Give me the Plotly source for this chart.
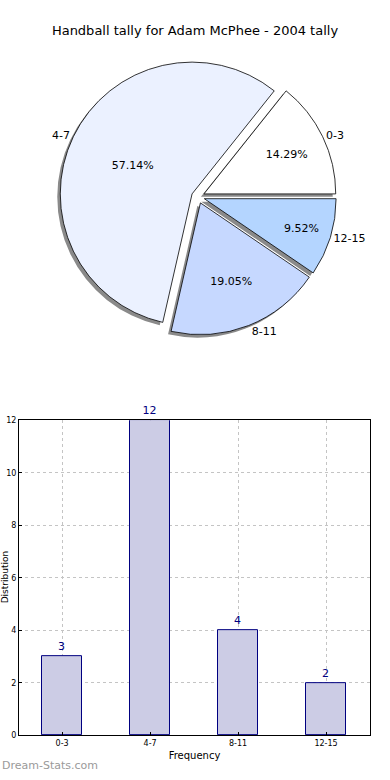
import plotly.graph_objects as go

categories = ["0-3", "4-7", "8-11", "12-15"]
counts = [3, 12, 4, 2]
pie_colors = ["#ffffff", "#ebf1ff", "#c6d8ff", "#b4d5ff"]
y_ticks = [0, 2, 4, 6, 8, 10, 12]

W, H = 390, 780
FONT = "DejaVu Sans"

def px_x(p):
    return p / W

def px_y(p):
    return 1 - p / H

cx, cy, half = 198, 195, 140
pie_dom_x = [px_x(cx - half), px_x(cx + half)]
pie_dom_y = [px_y(cy + half), px_y(cy - half)]
sh = 3
shadow_dom_x = [px_x(cx - half - sh), px_x(cx + half - sh)]
shadow_dom_y = [px_y(cy + half + sh), px_y(cy - half + sh)]

pull = [0.05, 0.05, 0.05, 0.05]
# first slice starts at 3 o'clock and runs counterclockwise (matplotlib style)
rot = 90 - 360 * counts[0] / sum(counts)

fig = go.Figure()

# shadow
fig.add_trace(go.Pie(
    labels=categories, values=counts, sort=False, direction="counterclockwise",
    rotation=rot, pull=pull, domain=dict(x=shadow_dom_x, y=shadow_dom_y),
    marker=dict(colors=["#8a8a8a"] * 4, line=dict(color="#8a8a8a", width=0)),
    textinfo="none", hoverinfo="skip", showlegend=False,
))
# main pie with percentages
fig.add_trace(go.Pie(
    labels=categories, values=counts, sort=False, direction="counterclockwise",
    rotation=rot, pull=pull, domain=dict(x=pie_dom_x, y=pie_dom_y),
    marker=dict(colors=pie_colors, line=dict(color="#000000", width=0.8)),
    texttemplate="%{percent:.2%}", textposition="inside",
    insidetextorientation="horizontal",
    textfont=dict(family=FONT, size=11, color="#000000"),
    showlegend=False,
))
# outside labels
fig.add_trace(go.Pie(
    labels=categories, values=counts, sort=False, direction="counterclockwise",
    rotation=rot, pull=pull, domain=dict(x=pie_dom_x, y=pie_dom_y),
    marker=dict(colors=["rgba(0,0,0,0)"] * 4, line=dict(width=0)),
    texttemplate="%{label}", textposition="outside",
    outsidetextfont=dict(family=FONT, size=11, color="#000000"),
    hoverinfo="skip", showlegend=False,
))

# bar chart
fig.add_trace(go.Bar(
    x=categories, y=counts, width=0.45,
    marker=dict(color="#ccccE5", line=dict(color="#000080", width=1)),
    text=[str(c) for c in counts], textposition="outside",
    textfont=dict(family=FONT, size=11, color="#000080"),
    cliponaxis=False, showlegend=False, xaxis="x", yaxis="y",
))

grid_style = dict(showgrid=True, gridcolor="#c4c4c4", griddash="dot", gridwidth=1)
fig.update_layout(
    width=W, height=H,
    margin=dict(l=0, r=0, t=0, b=0),
    paper_bgcolor="white", plot_bgcolor="white",
    font=dict(family=FONT, color="#000000"),
    title=dict(text="Handball tally for Adam McPhee - 2004 tally",
               x=0.5, xanchor="center", y=px_y(30), yanchor="middle",
               font=dict(family=FONT, size=13, color="#000000")),
    xaxis=dict(domain=[px_x(19), px_x(370)], range=[-0.49, 3.5],
               type="category", **grid_style,
               showline=True, linecolor="#000000", linewidth=1, mirror=True,
               ticks="inside", ticklen=3, tickcolor="#000000",
               tickfont=dict(family=FONT, size=8, color="#000000"),
               title=dict(text="Frequency", font=dict(family=FONT, size=10), standoff=4),
               anchor="y", zeroline=False),
    yaxis=dict(domain=[px_y(740), px_y(421)], range=[0, 12],
               tickvals=y_ticks, **grid_style,
               showline=True, linecolor="#000000", linewidth=1, mirror=True,
               ticks="inside", ticklen=3, tickcolor="#000000",
               tickfont=dict(family=FONT, size=8, color="#000000"),
               anchor="x", zeroline=False),
    bargap=0,
)

fig.add_annotation(text="Distribution", xref="paper", yref="paper",
                   x=px_x(5), y=px_y(580), textangle=-90, showarrow=False,
                   font=dict(family=FONT, size=9, color="#000000"),
                   xanchor="center", yanchor="middle")
fig.add_annotation(text="Dream-Stats.com", xref="paper", yref="paper",
                   x=0, y=px_y(770), xanchor="left", yanchor="middle", showarrow=False,
                   font=dict(family=FONT, size=11, color="#9a9a9a"))

fig.write_html("out.html", config={"displayModeBar": False},
               post_script="document.body.style.margin='0';document.body.style.overflow='hidden';")
